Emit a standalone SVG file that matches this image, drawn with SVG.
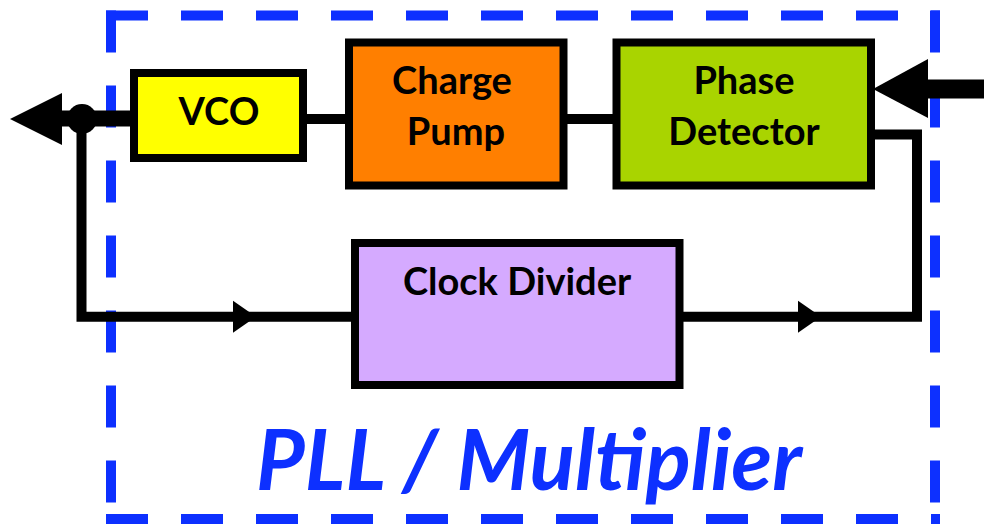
<svg xmlns="http://www.w3.org/2000/svg" width="984" height="524" viewBox="0 0 984 524">
<style>
.box{stroke:#000;stroke-width:8}
.lbl{font-family:Lato,"Liberation Sans",sans-serif;font-weight:bold;font-size:38px;fill:#000;text-anchor:middle}
.wire{fill:none;stroke:#000;stroke-width:10;stroke-linejoin:miter;stroke-linecap:butt}
.dash{stroke:#0d30ff;stroke-width:10;stroke-dasharray:42 33;fill:none}
</style>
<rect width="984" height="524" fill="#fff"/>
<g id="frame">
<line class="dash" x1="106" y1="15.5" x2="940" y2="15.5"/>
<line class="dash" x1="111" y1="10.5" x2="111" y2="524"/>
<line class="dash" x1="935" y1="10.5" x2="935" y2="524"/>
<line class="dash" x1="106" y1="519" x2="940" y2="519"/>
</g>
<g id="connectors">
<line class="wire" x1="303" y1="119" x2="349" y2="119"/>
<line class="wire" x1="563" y1="119" x2="616" y2="119"/>
<line x1="134" y1="118.5" x2="60" y2="118.5" stroke="#000" stroke-width="16"/>
<polygon points="10,119 62,93 62,145" fill="#000"/>
<circle cx="82" cy="119" r="15" fill="#000"/>
<polyline class="wire" points="81.5,119 81.5,316.7 355,316.7"/>
<polygon points="233,300.7 256,316.7 233,332.7" fill="#000"/>
<polyline class="wire" points="871,134.5 917,134.5 917,316.7 679,316.7"/>
<polygon points="798,300.7 821,316.7 798,332.7" fill="#000"/>
<line x1="925" y1="89" x2="984" y2="89" stroke="#000" stroke-width="19"/>
<polygon points="873,89 928,59 928,118" fill="#000"/>
</g>
<g id="vco">
<rect class="box" x="134" y="73" width="169" height="85" fill="#ffff00"/>
<text class="lbl" x="219" y="125">VCO</text>
</g>
<g id="charge-pump">
<rect class="box" x="349" y="42.5" width="214.5" height="143" fill="#ff7f00"/>
<text class="lbl" x="452" y="94">Charge</text>
<text class="lbl" x="456" y="145">Pump</text>
</g>
<g id="phase-detector">
<rect class="box" x="616.5" y="42.5" width="254.5" height="143" fill="#a9d400"/>
<text class="lbl" x="744" y="94">Phase</text>
<text class="lbl" x="744" y="145">Detector</text>
</g>
<g id="clock-divider">
<rect class="box" x="355" y="243" width="324.5" height="142" fill="#d5aaff"/>
<text class="lbl" x="517" y="295">Clock Divider</text>
</g>
<g id="title">
<text x="529" y="490" font-family="Lato,'Liberation Sans',sans-serif" font-weight="bold" font-style="italic" font-size="84" fill="#0d30ff" text-anchor="middle">PLL / Multiplier</text>
</g>
</svg>
